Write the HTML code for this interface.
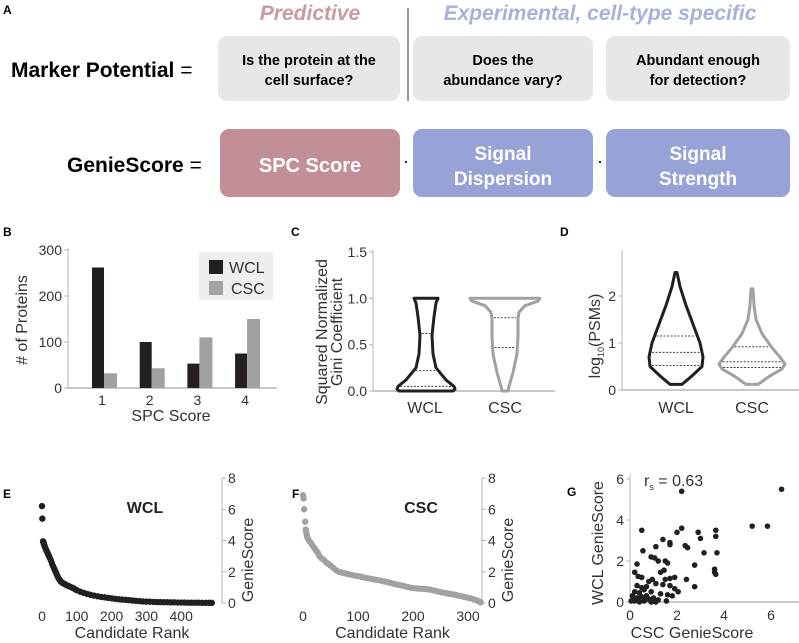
<!DOCTYPE html>
<html><head><meta charset="utf-8"><style>
body{margin:0;background:#fff}
svg{font-family:"Liberation Sans",Arial,sans-serif;display:block}
</style></head><body>
<svg id="fig" width="799" height="643" viewBox="0 0 799 643">
<g>
<text x="3" y="14" font-size="12" font-weight="bold">A</text>
<text x="310" y="20" font-size="21" font-weight="bold" font-style="italic" fill="#c99aa2" text-anchor="middle">Predictive</text>
<text x="600" y="20" font-size="21" font-weight="bold" font-style="italic" fill="#a8b1dc" text-anchor="middle">Experimental, cell-type specific</text>
<line x1="408" y1="8" x2="408" y2="101" stroke="#333" stroke-width="1"/>
<text x="11" y="77" font-size="21" font-weight="bold">Marker Potential <tspan font-weight="normal">=</tspan></text>
<rect x="218" y="36" width="182" height="65" rx="9" fill="#e6e7e8"/>
<text x="309" y="65" font-size="14.5" font-weight="bold" text-anchor="middle"><tspan x="309">Is the protein at the</tspan><tspan x="309" dy="20">cell surface?</tspan></text>
<rect x="413" y="36" width="180" height="65" rx="9" fill="#e6e7e8"/>
<text x="503" y="65" font-size="14.5" font-weight="bold" text-anchor="middle"><tspan x="503">Does the</tspan><tspan x="503" dy="20">abundance vary?</tspan></text>
<rect x="606" y="36" width="184" height="65" rx="9" fill="#e6e7e8"/>
<text x="698" y="65" font-size="14.5" font-weight="bold" text-anchor="middle"><tspan x="698">Abundant enough</tspan><tspan x="698" dy="20">for detection?</tspan></text>
<text x="67" y="172" font-size="21" font-weight="bold">GenieScore <tspan font-weight="normal">=</tspan></text>
<rect x="220" y="129" width="180" height="68" rx="9" fill="#c38f97"/>
<text x="310" y="172" font-size="20" font-weight="bold" fill="#fff" text-anchor="middle">SPC Score</text>
<text x="406" y="167" font-size="18" text-anchor="middle">·</text>
<rect x="413" y="129" width="180" height="68" rx="9" fill="#97a3d6"/>
<text x="503" y="160" font-size="19" font-weight="bold" fill="#fff" text-anchor="middle"><tspan x="503">Signal</tspan><tspan x="503" dy="25">Dispersion</tspan></text>
<text x="600" y="167" font-size="18" text-anchor="middle">·</text>
<rect x="606" y="129" width="184" height="68" rx="9" fill="#97a3d6"/>
<text x="698" y="160" font-size="19" font-weight="bold" fill="#fff" text-anchor="middle"><tspan x="698">Signal</tspan><tspan x="698" dy="25">Strength</tspan></text>
</g>
<g id="charts"></g>
<text x="3" y="236" font-size="12" font-weight="bold">B</text>
<text x="291" y="236" font-size="12" font-weight="bold">C</text>
<text x="560" y="236" font-size="12" font-weight="bold">D</text>
<text x="3" y="498" font-size="12" font-weight="bold">E</text>
<text x="292" y="498" font-size="12" font-weight="bold">F</text>
<text x="567" y="496" font-size="12" font-weight="bold">G</text>
</svg>
<script>
const spcCategories=[1,2,3,4];
const spcWCL=[262,100,53,75];
const spcCSC=[32,43,110,150];
const spcTicks=[0,100,200,300];
const giniTicks=["0.0","0.5","1.0","1.5"];
const giniWCLVals=[0,0.02,0.05,0.12,0.25,0.4,0.6,0.8,0.95,1.0];
const giniWCLDens=[27,29,28,20,10,7,6,8,10,12];
const giniWCLQuart=[0.05,0.22,0.62];
const giniCSCVals=[0,0.05,0.2,0.4,0.6,0.78,0.85,0.92,0.97,1.0];
const giniCSCDens=[3,4,8,12,13,13,14,20,33,35];
const giniCSCQuart=[0.47,0.79];
const psmTicks=[0,1,2];
const psmWCLVals=[0.12,0.3,0.5,0.7,1.0,1.4,1.8,2.2,2.5];
const psmWCLDens=[6,16,26,27,24,17,10,4,1];
const psmWCLQuart=[0.52,0.8,1.15];
const psmCSCVals=[0.12,0.3,0.45,0.55,0.7,0.9,1.2,1.5,1.8,2.15];
const psmCSCDens=[6,18,30,33,28,20,10,4,2,1];
const psmCSCQuart=[0.48,0.6,0.92];
const wclRank=[0,1,3,4,5,6,7,8,10,12,14,16,18,20,23,26,29,32,35,38,41,44,47,50,54,58,62,66,70,75,80,85,90,95,100,110,120,130,140,150,160,170,180,190,200,210,220,230,240,250,260,270,280,290,300,310,320,330,340,350,360,370,380,390,400,410,420,430,440,450,460,470,480,488];
const wclScore=[6.2,5.4,3.95,3.9,3.8,3.75,3.7,3.6,3.5,3.4,3.3,3.2,3.1,3.0,2.85,2.7,2.5,2.35,2.2,2.05,1.9,1.75,1.6,1.5,1.38,1.3,1.25,1.2,1.15,1.1,1.05,1.0,0.95,0.88,0.82,0.72,0.65,0.58,0.52,0.47,0.43,0.39,0.36,0.33,0.3,0.27,0.24,0.22,0.2,0.18,0.16,0.14,0.12,0.1,0.09,0.08,0.07,0.06,0.06,0.05,0.05,0.04,0.04,0.03,0.03,0.03,0.02,0.02,0.02,0.02,0.01,0.01,0.01,0.01];
const cscRank=[0,1,2,4,5,6,7,8,10,12,15,18,21,24,27,30,34,38,42,46,50,55,60,65,70,76,82,88,94,100,106,112,118,124,130,136,142,148,154,160,166,172,178,184,190,196,202,208,214,220,226,232,238,244,250,256,262,268,274,280,286,292,298,304,310,316,320,323];
const cscScore=[6.9,6.7,6.0,5.2,4.7,4.5,4.3,4.2,4.05,3.95,3.8,3.65,3.5,3.35,3.2,3.0,2.85,2.75,2.6,2.5,2.4,2.25,2.1,2.0,1.95,1.9,1.85,1.8,1.75,1.72,1.68,1.62,1.58,1.55,1.5,1.47,1.43,1.38,1.33,1.28,1.22,1.18,1.13,1.08,1.03,0.98,0.95,0.93,0.91,0.9,0.88,0.85,0.8,0.75,0.7,0.66,0.62,0.58,0.55,0.5,0.45,0.4,0.35,0.3,0.24,0.17,0.1,0.04];
const rankTicksE=[0,100,200,300,400];
const rankTicksF=[0,100,200,300];
const genieTicks=[0,2,4,6,8];
const scatCSC=[6.45,2.2,5.2,5.85,0.5,2.2,2.0,1.4,1.7,1.7,2.9,3.0,3.65,3.65,2.35,2.45,0.55,1.1,3.15,3.7,0.9,1.05,1.2,1.5,1.6,0.3,2.75,3.6,3.6,3.65,0.2,0.35,0.5,1.3,1.45,0.95,0.8,1.5,1.7,1.9,2.4,1.1,1.4,1.7,1.9,2.05,2.75,0.3,0.5,0.6,0.7,0.2,0.4,0.9,1.3,1.6,1.8,0.1,0.3,0.5,0.7,0.8,1.0,1.2,1.55,0.05,0.2,0.4,0.6,0.9,1.1,0.15,0.35,0.65,1.0];
const scatWCL=[5.5,5.4,3.7,3.7,3.5,3.6,3.4,3.05,2.9,2.8,3.4,3.1,3.5,3.2,2.75,2.65,2.5,2.7,2.4,2.4,2.2,2.15,2.0,2.0,1.9,1.85,1.8,1.6,1.45,1.35,1.45,1.25,1.2,1.45,1.55,1.1,1.0,1.1,1.15,1.2,1.1,0.9,0.85,0.8,0.65,0.5,0.75,0.8,0.7,0.6,0.75,0.5,0.45,0.5,0.4,0.35,0.3,0.3,0.2,0.25,0.3,0.15,0.2,0.1,0.05,0.05,0.05,0.0,0.05,0.0,0.0,0.15,0.1,0.1,0.05];
const scatTicksX=[0,2,4,6];
const scatTicksY=[0,2,4,6];

const NS="http://www.w3.org/2000/svg";
const root=document.getElementById('charts');
function mk(tag,attrs,parent,txt){const e=document.createElementNS(NS,tag);for(const k in attrs)e.setAttribute(k,attrs[k]);if(txt!==undefined)e.textContent=txt;(parent||root).appendChild(e);return e;}
const AX="#b5b5b5",TX="#333",TS=14,LS=16;
function lin(d0,d1,r0,r1){return v=>r0+(v-d0)*(r1-r0)/(d1-d0);}

// ---- B bar chart
{const g=mk('g',{});
const y=lin(0,300,388,250), x=c=>102+(c-1)*47.7;
let l=mk('line',{x1:68,y1:248,x2:68,y2:388,stroke:AX,'stroke-width':1},g);
l=mk('line',{x1:68,y1:388,x2:277,y2:388,stroke:AX,'stroke-width':1.5},g);
spcTicks.forEach(t=>{let k=mk('line',{x1:64,x2:68,y1:y(t),y2:y(t),stroke:AX},g);
let s=mk('text',{x:62,y:y(t)+5,'font-size':TS,'text-anchor':'end',fill:TX},g,t);});
spcCategories.forEach((c,i)=>{let b=mk('rect',{x:x(c)-10,y:y(spcWCL[i]),width:12,height:388-y(spcWCL[i]),fill:'#231f20'},g);
b=mk('rect',{x:x(c)+2,y:y(spcCSC[i]),width:13,height:388-y(spcCSC[i]),fill:'#a1a1a4'},g);
let s=mk('text',{x:x(c),y:405,'font-size':TS,'text-anchor':'middle',fill:TX},g,c);});
let t=mk('text',{x:171,y:421,'font-size':LS,'text-anchor':'middle',fill:TX},g,'SPC Score');
t=mk('text',{x:0,y:0,'font-size':LS,'text-anchor':'middle',fill:TX,transform:'translate(27,320) rotate(-90)'},g,'# of Proteins');
let lg=mk('rect',{x:199,y:252,width:74,height:48,fill:'#eeeeee'},g);
let e=mk('rect',{x:209,y:260,width:14,height:14,fill:'#231f20'},g);
e=mk('text',{x:229,y:273,'font-size':LS,fill:TX},g,'WCL');
e=mk('rect',{x:209,y:281,width:14,height:14,fill:'#a1a1a4'},g);
e=mk('text',{x:231,y:294,'font-size':LS,fill:TX},g,'CSC');}

function violin(g,cx,vals,dens,quart,y,color,name){
 let r=[],L=[];vals.forEach((v,i)=>{r.push([cx+dens[i],y(v)]);L.push([cx-dens[i],y(v)]);});
 const pts=r.concat(L.reverse());
 let d='M'+pts.map(p=>p[0].toFixed(1)+','+p[1].toFixed(1)).join(' L')+' Z';
 let p=mk('path',{d:d,fill:'none',stroke:color,'stroke-width':3,'stroke-linejoin':'round'},g);
 quart.forEach(q=>{let w=0;for(let i=0;i<vals.length-1;i++){if(q>=vals[i]&&q<=vals[i+1]){w=dens[i]+(dens[i+1]-dens[i])*(q-vals[i])/(vals[i+1]-vals[i]);}}
  let l=mk('line',{x1:cx-w+2,x2:cx+w-2,y1:y(q),y2:y(q),stroke:'#444','stroke-width':1,'stroke-dasharray':'2,1.5'},g);});
}
// ---- C
{const g=mk('g',{});
const y=lin(0,1.5,391,252);
let l=mk('line',{x1:373,y1:250,x2:373,y2:391,stroke:AX},g);
l=mk('line',{x1:373,y1:391,x2:555,y2:391,stroke:AX,'stroke-width':1.5},g);
giniTicks.forEach(t=>{let k=mk('line',{x1:369,x2:373,y1:y(+t),y2:y(+t),stroke:AX},g);
let s=mk('text',{x:367,y:y(+t)+5,'font-size':TS,'text-anchor':'end',fill:TX},g,t);});
violin(g,426,giniWCLVals,giniWCLDens,giniWCLQuart,y,'#231f20','violin-wcl');
violin(g,505,giniCSCVals,giniCSCDens,giniCSCQuart,y,'#a1a1a4','violin-csc');
let s=mk('text',{x:425,y:413,'font-size':LS,'text-anchor':'middle',fill:TX},g,'WCL');
s=mk('text',{x:505,y:413,'font-size':LS,'text-anchor':'middle',fill:TX},g,'CSC');
s=mk('text',{x:0,y:0,'font-size':LS,'text-anchor':'middle',fill:TX,transform:'translate(327,332) rotate(-90)'},g,'Squared Normalized');
s=mk('text',{x:0,y:0,'font-size':LS,'text-anchor':'middle',fill:TX,transform:'translate(342,332) rotate(-90)'},g,'Gini Coefficient');}
// ---- D
{const g=mk('g',{});
const y=lin(0,1,390,343);
let l=mk('line',{x1:622,y1:250,x2:622,y2:390,stroke:AX},g);
l=mk('line',{x1:622,y1:390,x2:799,y2:390,stroke:AX,'stroke-width':1.5},g);
psmTicks.forEach(t=>{let k=mk('line',{x1:618,x2:622,y1:y(t),y2:y(t),stroke:AX},g);
let s=mk('text',{x:616,y:y(t)+5,'font-size':TS,'text-anchor':'end',fill:TX},g,t);});
violin(g,676,psmWCLVals,psmWCLDens,psmWCLQuart,y,'#231f20','violin-wcl');
violin(g,752,psmCSCVals,psmCSCDens,psmCSCQuart,y,'#a1a1a4','violin-csc');
let s=mk('text',{x:676,y:413,'font-size':LS,'text-anchor':'middle',fill:TX},g,'WCL');
s=mk('text',{x:752,y:413,'font-size':LS,'text-anchor':'middle',fill:TX},g,'CSC');
s=mk('text',{x:0,y:0,'font-size':LS,'text-anchor':'middle',fill:TX,transform:'translate(600,336) rotate(-90)'},g);
s.innerHTML='log<tspan font-size="9" dy="4">10</tspan><tspan dy="-4">(PSMs)</tspan>';}
// ---- E/F rank plots
function rankPlot(name,title,ranks,scores,ticks,x0,xs,axisR,color,titleX){
 const g=mk('g',{});
 const x=r=>x0+r*xs, y=lin(0,8,603,478);
 let l=mk('line',{x1:axisR,y1:478,x2:axisR,y2:603,stroke:AX},g);
 genieTicks.forEach(t=>{let k=mk('line',{x1:axisR,x2:axisR+4,y1:y(t),y2:y(t),stroke:AX},g);
  let s=mk('text',{x:axisR+6,y:y(t)+5,'font-size':TS,fill:TX},g,t);});
 ticks.forEach(t=>{let s=mk('text',{x:x(t),y:621,'font-size':TS,'text-anchor':'middle',fill:TX},g,t);});
 ranks.forEach((r,i)=>{let c=mk('circle',{cx:x(r),cy:y(scores[i]),r:3.2,fill:color},g);});
 let s=mk('text',{x:titleX,y:513,'font-size':LS,'font-weight':'bold','text-anchor':'middle',fill:'#222'},g,title);
 s=mk('text',{x:(x0+axisR)/2,y:638,'font-size':LS,'text-anchor':'middle',fill:TX},g,'Candidate Rank');
 s=mk('text',{x:0,y:0,'font-size':LS,'text-anchor':'middle',fill:TX,transform:'translate('+(axisR+31)+',560) rotate(-90)'},g,'GenieScore');
}
rankPlot('wcl-rank-chart','WCL',wclRank,wclScore,rankTicksE,42,0.348,222,'#231f20',145);
rankPlot('csc-rank-chart','CSC',cscRank,cscScore,rankTicksF,303,0.55,482,'#a1a1a4',421);
// ---- G scatter
{const g=mk('g',{});
const x=lin(0,2,630,677),y=lin(0,2,602,561);
let l=mk('line',{x1:630,y1:474,x2:630,y2:602,stroke:AX},g);
l=mk('line',{x1:630,y1:602,x2:799,y2:602,stroke:AX,'stroke-width':1.5},g);
scatTicksY.forEach(t=>{let k=mk('line',{x1:626,x2:630,y1:y(t),y2:y(t),stroke:AX},g);
let s=mk('text',{x:624,y:y(t)+5,'font-size':TS,'text-anchor':'end',fill:TX},g,t);});
scatTicksX.forEach(t=>{let s=mk('text',{x:x(t),y:620,'font-size':TS,'text-anchor':'middle',fill:TX},g,t);});
scatCSC.forEach((v,i)=>{let c=mk('circle',{cx:x(v),cy:y(scatWCL[i]),r:2.8,fill:'#231f20'},g);});
let s=mk('text',{x:644,y:486,'font-size':LS,fill:TX},g);
s.innerHTML='r<tspan font-size="9" dy="4">s</tspan><tspan dy="-4"> = 0.63</tspan>';
s=mk('text',{x:692,y:638,'font-size':LS,'text-anchor':'middle',fill:TX},g,'CSC GenieScore');
s=mk('text',{x:0,y:0,'font-size':LS,'text-anchor':'middle',fill:TX,transform:'translate(603,543) rotate(-90)'},g,'WCL GenieScore');}
</script>
</body></html>
